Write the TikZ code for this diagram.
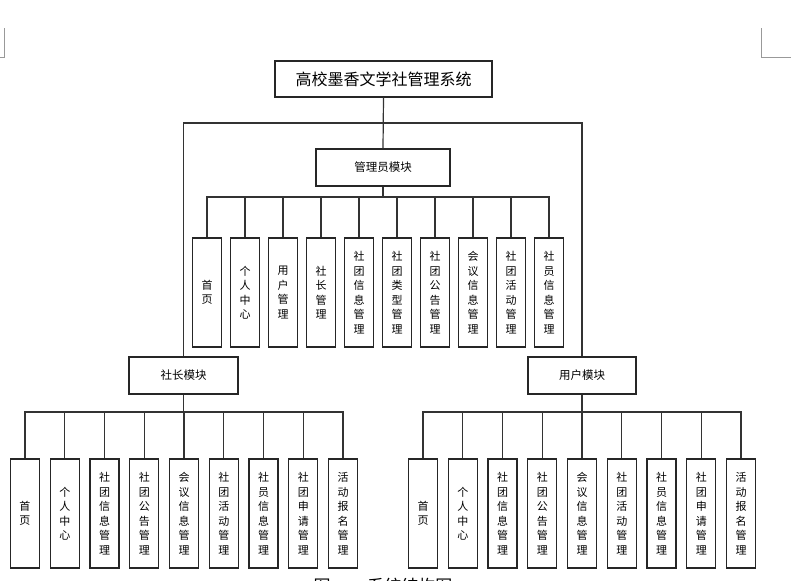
\documentclass[tikz,border=0pt]{standalone}
\usepackage{fontspec}
\newfontfamily\cjk{Noto Sans CJK SC}
\usetikzlibrary{calc}

\begin{document}
\begin{tikzpicture}[x=1pt,y=-1pt,
	box/.style={draw=black!85,line width=1.1pt,inner sep=0pt,font=\cjk\fontsize{11.5}{14}\selectfont},
	leaf/.style={draw=black!85,line width=1.1pt,inner sep=0pt,minimum width=29pt,minimum height=109pt,align=center,font=\cjk\fontsize{11}{14.5}\selectfont},
	link/.style={draw=black!80,line width=1.2pt}]
	\useasboundingbox (0,0) rectangle (796,581);

	% Corner marks
	\draw[gray!80,line width=0.8pt] (4,28) -- (4,57) -- (0,57);
	\draw[gray!80,line width=0.8pt] (761,28) -- (761,57) -- (791,57);

	% Modules
	\node[box,minimum width=217pt,minimum height=36pt,font=\cjk\fontsize{16}{18}\selectfont] (sys) at (383.5,79) {高校墨香文学社管理系统};
	\node[box,minimum width=134pt,minimum height=37pt] (admin) at (383,167.5) {管理员模块};
	\node[box,minimum width=109pt,minimum height=37pt] (chief) at (183.5,375.5) {社长模块};
	\node[box,minimum width=108pt,minimum height=37pt] (user) at (582,375.5) {用户模块};

	% Bus levels
	\coordinate (top) at (383,123);
	\coordinate (abus) at (383,197);
	\coordinate (lbus) at (383,412);

	% Top links
	\draw[link] (sys.south) -- (admin.north);
	\draw[link] (sys.south) -- (sys.south|-top) -| (chief.north);
	\draw[link] (sys.south) -- (sys.south|-top) -| (user.north);

	% Admin functions
	\foreach \t [count=\i from 0] in {首\\页, 个\\人\\中\\心, 用\\户\\管\\理, 社\\长\\管\\理, 社\\团\\信\\息\\管\\理, 社\\团\\类\\型\\管\\理, 社\\团\\公\\告\\管\\理, 会\\议\\信\\息\\管\\理, 社\\团\\活\\动\\管\\理, 社\\员\\信\\息\\管\\理} {
		\node[leaf] (a\i) at (207+38*\i,292.5) {\t};
		\draw[link] (admin.south) -- (admin.south|-abus) -| (a\i.north);
	}

	% Chief functions
	\foreach \t [count=\i from 0] in {首\\页, 个\\人\\中\\心, 社\\团\\信\\息\\管\\理, 社\\团\\公\\告\\管\\理, 会\\议\\信\\息\\管\\理, 社\\团\\活\\动\\管\\理, 社\\员\\信\\息\\管\\理, 社\\团\\申\\请\\管\\理, 活\\动\\报\\名\\管\\理} {
		\node[leaf] (c\i) at (25+39.75*\i,513.5) {\t};
		\draw[link] (chief.south) -- (chief.south|-lbus) -| (c\i.north);
	}

	% User functions
	\foreach \t [count=\i from 0] in {首\\页, 个\\人\\中\\心, 社\\团\\信\\息\\管\\理, 社\\团\\公\\告\\管\\理, 会\\议\\信\\息\\管\\理, 社\\团\\活\\动\\管\\理, 社\\员\\信\\息\\管\\理, 社\\团\\申\\请\\管\\理, 活\\动\\报\\名\\管\\理} {
		\node[leaf] (u\i) at (423+39.75*\i,513.5) {\t};
		\draw[link] (user.south) -- (user.south|-lbus) -| (u\i.north);
	}

	% Caption (cut by the page edge)
	\node[anchor=north,inner sep=0pt,font=\cjk\fontsize{17}{17}\selectfont] (cap) at (383,578) {图\hspace{37pt}系统结构图};
\end{tikzpicture}
\end{document}
